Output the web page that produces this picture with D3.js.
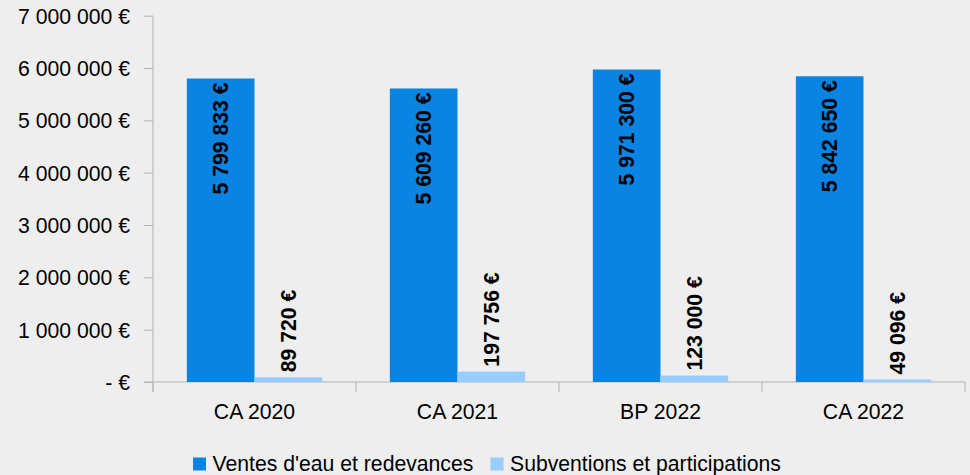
<!DOCTYPE html>
<html><head><meta charset="utf-8">
<script src="https://cdn.jsdelivr.net/npm/d3@7/dist/d3.min.js"></script>
<style>html,body{margin:0;padding:0;background:#eeeeee;}svg{display:block;font-family:"Liberation Sans",Arial,sans-serif;}</style>
</head><body>
<svg id="chart" width="970" height="475"></svg>
<script>
const categories = ["CA 2020", "CA 2021", "BP 2022", "CA 2022"];
const seriesNames = ["Ventes d'eau et redevances", "Subventions et participations"];
const ventes = [5799833, 5609260, 5971300, 5842650];
const subventions = [89720, 197756, 123000, 49096];
const yTicks = [0, 1000000, 2000000, 3000000, 4000000, 5000000, 6000000, 7000000];
const colors = ["#0984e3", "#99ccff"];

(function () {
const svg = d3.select("#chart");
svg.append("rect").attr("width", 970).attr("height", 475).attr("fill", "#eeeeee");

const mLeft = 153, mRight = 965, mTop = 15.7, mBottom = 382;
const FS = 21.2;
const x = d3.scaleBand().domain(categories).range([mLeft, mRight]).paddingInner(0).paddingOuter(0);
const inner = d3.scaleBand().domain([0, 1]).range([0, x.bandwidth()]).paddingOuter(0.5).paddingInner(0);
const y = d3.scaleLinear().domain([0, 7000000]).range([mBottom, mTop]);

const fmt = v => v === 0 ? "- €" : d3.format(",")(v).replace(/,/g, " ") + " €";

// y axis
const yAxis = d3.axisLeft(y).tickValues(yTicks).tickSize(9).tickPadding(14).tickFormat(fmt);
const gy = svg.append("g").attr("transform", `translate(${mLeft},0)`).call(yAxis);
gy.select(".domain").remove();
gy.selectAll(".tick line").attr("stroke", "#b3b3b3").attr("stroke-width", 1);
gy.selectAll(".tick text").attr("font-size", FS).attr("fill", "#000").attr("dy", "0.35em")
  .attr("font-family", "'Liberation Sans', Arial, sans-serif");
svg.append("line").attr("x1", mLeft).attr("x2", mLeft).attr("y1", mTop).attr("y2", mBottom + 10)
  .attr("stroke", "#b3b3b3").attr("stroke-width", 1);

// x axis
svg.append("line").attr("x1", mLeft - 9).attr("x2", mRight).attr("y1", mBottom).attr("y2", mBottom)
  .attr("stroke", "#b3b3b3").attr("stroke-width", 1);
const boundaries = categories.map(c => x(c)).concat([x(categories[categories.length - 1]) + x.bandwidth()]);
svg.selectAll(".xtick").data(boundaries).join("line").attr("class", "xtick")
  .attr("x1", d => d).attr("x2", d => d).attr("y1", mBottom).attr("y2", mBottom + 10)
  .attr("stroke", "#b3b3b3");
svg.selectAll(".xlabel").data(categories).join("text").attr("class", "xlabel")
  .attr("x", d => x(d) + x.bandwidth() / 2).attr("y", 418.5)
  .attr("text-anchor", "middle").attr("font-size", FS).attr("fill", "#000").text(d => d);

// bars
const series = [ventes, subventions];
series.forEach((vals, si) => {
  const g = svg.append("g");
  g.selectAll("rect").data(vals).join("rect")
    .attr("x", (d, i) => x(categories[i]) + inner(si))
    .attr("y", d => y(d))
    .attr("width", inner.bandwidth())
    .attr("height", d => mBottom - y(d))
    .attr("fill", colors[si]);
  g.selectAll("text").data(vals).join("text")
    .attr("transform", (d, i) => {
      const cx = x(categories[i]) + inner(si) + inner.bandwidth() / 2 + 7.5;
      const ty = si === 0 ? y(d) + 4 : y(d) - 5;
      return `translate(${cx},${ty}) rotate(-90)`;
    })
    .attr("text-anchor", si === 0 ? "end" : "start")
    .attr("font-size", FS).attr("font-weight", "bold").attr("fill", "#000")
    .text(d => fmt(d));
});

// legend
const legendItems = [{x: 193, tx: 212.5}, {x: 490.5, tx: 510}];
legendItems.forEach((it, i) => {
  svg.append("rect").attr("x", it.x).attr("y", 457.5).attr("width", 13).attr("height", 13).attr("fill", colors[i]);
  svg.append("text").attr("x", it.tx).attr("y", 471).attr("font-size", FS).attr("fill", "#000").text(seriesNames[i]);
});
})();
</script>
</body></html>
